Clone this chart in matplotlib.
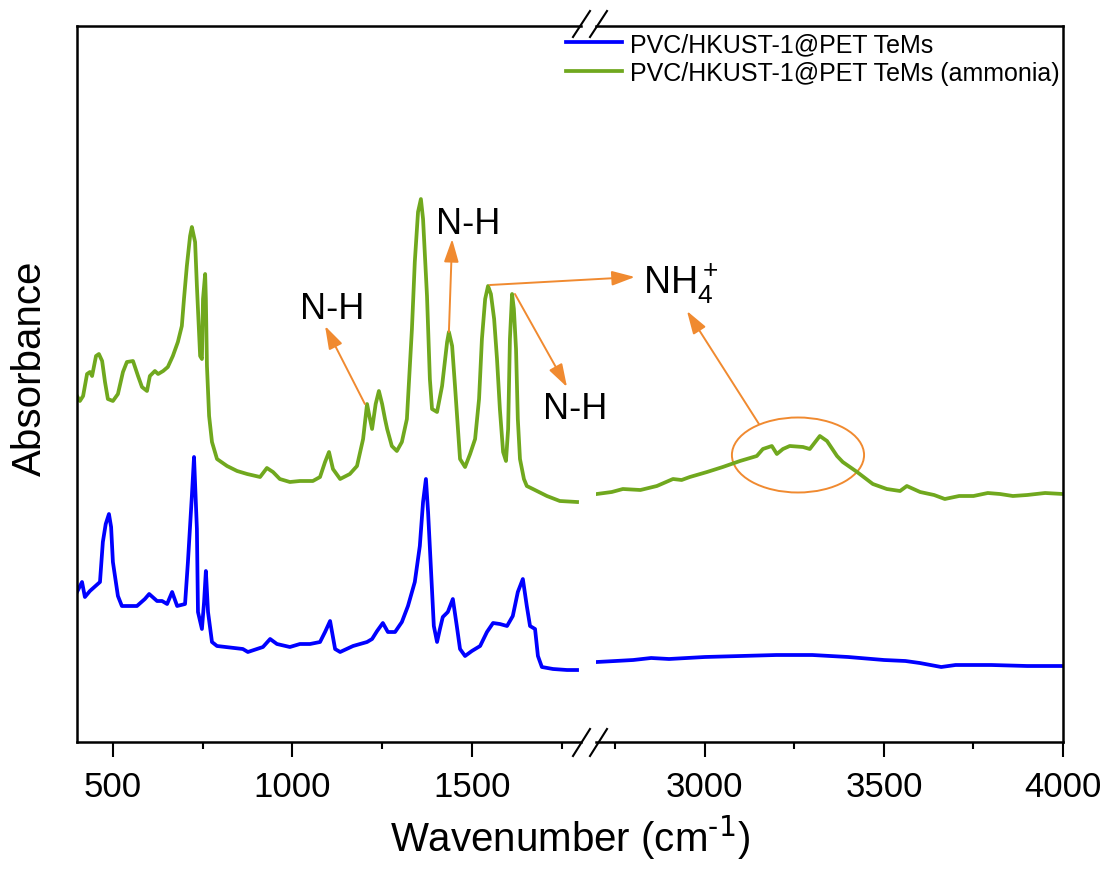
import numpy as np
import matplotlib
matplotlib.use("Agg")
import matplotlib.pyplot as plt
from matplotlib.lines import Line2D
from matplotlib.patches import Ellipse

plt.rcParams['font.family'] = ['Liberation Sans', 'DejaVu Sans']
plt.rcParams['mathtext.default'] = 'regular'

# spectra (wavenumber in cm-1, absorbance in arbitrary units)
green_wn_low = [400, 408, 417, 428, 436, 442, 453, 461, 470, 478, 486, 500, 514, 528, 539, 556,
                570, 581, 595, 603, 617, 626, 640, 653, 667, 681, 692, 698, 706, 715, 720, 729,
                734, 743, 748, 751, 757, 759, 762, 768, 776, 790, 818, 846, 874, 910, 929, 946,
                965, 993, 1021, 1057, 1077, 1091, 1102, 1113, 1133, 1160, 1180, 1197, 1208, 1215,
                1222, 1232, 1241, 1250, 1258, 1264, 1277, 1291, 1305, 1319, 1333, 1341, 1350, 1358,
                1364, 1375, 1383, 1389, 1403, 1417, 1431, 1436, 1445, 1453, 1467, 1481, 1495, 1509,
                1520, 1528, 1537, 1545, 1553, 1562, 1570, 1578, 1587, 1595, 1601, 1606, 1612, 1617,
                1623, 1628, 1634, 1645, 1653, 1670, 1709, 1745, 1793]
green_ab_low = [346, 341, 346, 368, 370, 366, 386, 388, 381, 360, 343, 341, 348, 370, 380, 381,
                366, 355, 351, 366, 371, 368, 371, 375, 386, 400, 416, 443, 476, 506, 515, 500,
                456, 386, 383, 443, 468, 443, 376, 326, 300, 283, 276, 271, 268, 265, 274, 270,
                263, 260, 261, 261, 265, 280, 290, 273, 263, 268, 276, 303, 338, 325,
                313, 338, 351, 338, 323, 313, 296, 291, 300, 323, 413, 480, 530, 543,
                523, 446, 363, 333, 330, 356, 400, 410, 396, 356, 283, 275, 288, 303,
                343, 403, 443, 456, 448, 423, 383, 333, 290, 281, 313, 403, 448, 433,
                393, 323, 283, 263, 256, 253, 246, 241, 240]
green_wn_high = [2698, 2740, 2771, 2820, 2866, 2911, 2935, 2958, 3006, 3050, 3098, 3145, 3162,
                 3187, 3201, 3218, 3237, 3274, 3293, 3321, 3341, 3369, 3385, 3425, 3469, 3508,
                 3545, 3564, 3601, 3640, 3670, 3710, 3750, 3790, 3824, 3860, 3900, 3950, 4000]
green_ab_high = [248, 250, 253, 252, 256, 263, 262, 265, 270, 275, 281, 286, 293,
                 296, 288, 293, 296, 295, 293, 306, 301, 286, 280, 270, 258, 253,
                 251, 256, 250, 247, 243, 246, 246, 249, 248, 246, 247, 249, 248]

blue_wn_low = [400, 414, 422, 436, 464, 472, 480, 489, 495, 500, 514, 525, 567, 589, 601, 623,
               637, 651, 665, 679, 701, 709, 720, 726, 734, 737, 748, 754, 759, 765, 776, 790,
               862, 876, 918, 938, 957, 993, 1021, 1049, 1077, 1091, 1105, 1119, 1133, 1169,
               1208, 1222, 1236, 1252, 1266, 1286, 1305, 1322, 1341, 1355, 1364, 1372, 1378,
               1386, 1394, 1403, 1411, 1419, 1433, 1447, 1458, 1467, 1481, 1500, 1523, 1542,
               1559, 1578, 1598, 1614, 1628, 1642, 1653, 1662, 1676, 1684, 1695, 1726, 1765, 1793]
blue_ab_low = [150, 160, 145, 151, 160, 200, 218, 228, 215, 180, 146, 136, 136, 143, 148, 141,
               141, 138, 150, 136, 138, 180, 246, 285, 213, 130, 113, 140, 171, 130, 100, 96,
               93, 90, 95, 103, 98, 95, 98, 98, 100, 110, 121, 93, 90, 96,
               100, 103, 111, 119, 110, 110, 120, 136, 160, 196, 240, 263, 230,
               173, 116, 100, 113, 125, 130, 143, 116, 93, 86, 91, 96, 110,
               119, 118, 116, 126, 150, 163, 136, 116, 113, 86, 75, 73, 72, 72]
blue_wn_high = [2698, 2750, 2800, 2850, 2900, 3000, 3100, 3200, 3300, 3400, 3500, 3560, 3600,
                3660, 3700, 3800, 3900, 4000]
blue_ab_high = [80, 81, 82, 84, 83, 85, 86, 87, 87, 85, 82, 81, 79, 75, 77, 77, 76, 76]

labels = ['PVC/HKUST-1@PET TeMs', 'PVC/HKUST-1@PET TeMs (ammonia)']
blue = '#0000ff'
green = '#70a81e'
orange = '#f08a30'

W, H = 1107, 870
fig = plt.figure(figsize=(W / 100, H / 100), dpi=100)

def fx(px):
    return px / W

def fy(py):
    return 1 - py / H

bottom, top = fy(743), fy(27)
ax1 = fig.add_axes([fx(77), bottom, fx(581) - fx(77), top - bottom])
ax2 = fig.add_axes([fx(596), bottom, fx(1063) - fx(596), top - bottom])

ax1.plot(blue_wn_low, blue_ab_low, color=blue, lw=2.7)
ax1.plot(green_wn_low, green_ab_low, color=green, lw=2.7)
ax2.plot(blue_wn_high, blue_ab_high, color=blue, lw=2.7)
ax2.plot(green_wn_high, green_ab_high, color=green, lw=2.7)

for ax in (ax1, ax2):
    ax.patch.set_visible(False)
    ax.set_ylim(0, 716)
    ax.set_yticks([])
    for s in ax.spines.values():
        s.set_linewidth(1.8)
    ax.tick_params(axis='x', which='major', direction='out', length=11, width=1.5,
                   labelsize=25, pad=9)
    ax.tick_params(axis='x', which='minor', direction='out', length=5, width=1.5)

ax1.set_xlim(400, 1804)
ax1.set_xticks([500, 1000, 1500])
ax1.set_xticks([750, 1250, 1750], minor=True)
ax1.spines['right'].set_visible(False)

ax2.set_xlim(2696, 4000)
ax2.set_xticks([3000, 3500, 4000])
ax2.set_xticks([2750, 3250, 3750], minor=True)
ax2.spines['left'].set_visible(False)

# axis break marks
for y0, y1 in [(757, 730), (38, 12)]:
    for xs in (573, 590):
        fig.add_artist(Line2D([fx(xs), fx(xs + 17)], [fy(y0), fy(y1)],
                              color='black', lw=1.5, transform=fig.transFigure))

# annotations
arrow = dict(arrowstyle='-|>,head_length=1.0,head_width=0.32', color=orange, lw=1.4,
             mutation_scale=14, shrinkA=0, shrinkB=0)
ax1.annotate('', xy=(1091, 416), xytext=(1202, 338), arrowprops=arrow, annotation_clip=False)
ax1.annotate('', xy=(1445, 503), xytext=(1436, 410), arrowprops=arrow, annotation_clip=False)
ax1.annotate('', xy=(1954, 465), xytext=(1550, 457), arrowprops=arrow, annotation_clip=False)
ax1.annotate('', xy=(1765, 355), xytext=(1620, 448), arrowprops=arrow, annotation_clip=False)
ax2.annotate('', xy=(2950, 431), xytext=(3151, 318), arrowprops=arrow, annotation_clip=False)
ax2.add_patch(Ellipse((3260, 287), 369, 75, fill=False, edgecolor=orange, lw=1.4))

ax1.text(1110, 433, 'N-H', fontsize=26, ha='center', va='center')
ax1.text(1489, 519, 'N-H', fontsize=26, ha='center', va='center')
ax1.text(1787, 333, 'N-H', fontsize=26, ha='center', va='center', clip_on=False)
ax2.text(2827, 459, r'NH$_4^+$', fontsize=27, ha='left', va='center')

handles = [Line2D([], [], color=blue, lw=2.7), Line2D([], [], color=green, lw=2.7)]
fig.legend(handles, labels, loc='upper left', bbox_to_anchor=(fx(566), fy(33)),
           frameon=False, fontsize=18, handlelength=2.25, handletextpad=0.3,
           labelspacing=0.2, borderpad=0, borderaxespad=0)

fig.text(fx(30), fy(368), 'Absorbance', rotation=90, fontsize=29, ha='center', va='center')
fig.text(fx(570), fy(838), r'Wavenumber (cm$^{\text{-1}}$)', fontsize=29, ha='center', va='center')

fig.savefig('out.png', dpi=100)
